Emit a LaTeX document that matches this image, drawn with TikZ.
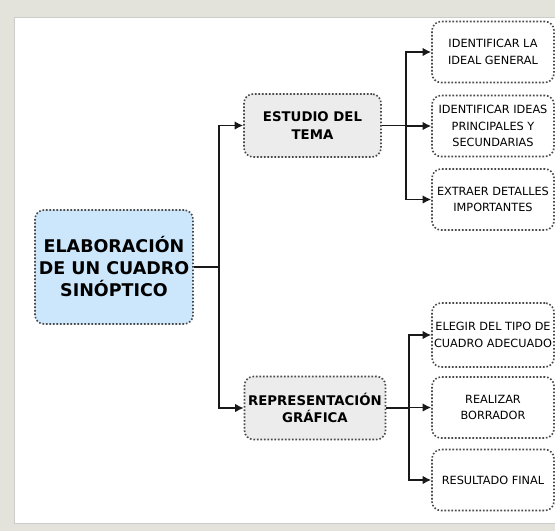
\documentclass[tikz,border=0pt]{standalone}
\usepackage{fontspec}
\setmainfont{DejaVu Sans}
\usetikzlibrary{arrows.meta}
\definecolor{bgrey}{HTML}{E3E3DC}
\definecolor{mainblue}{HTML}{CCE6FB}
\definecolor{midgrey}{HTML}{ECECEC}
\definecolor{dotcol}{HTML}{484848}
\tikzset{
  box/.style={draw=dotcol, dash pattern=on 1.6pt off 1.9pt, line width=1.6pt, rounded corners=9pt, align=center, inner sep=0pt},
  mainbox/.style={box, fill=mainblue, minimum width=158pt, minimum height=114pt,
    font=\bfseries\fontsize{17.5}{22}\selectfont},
  midbox/.style={box, fill=midgrey, minimum width=137pt, minimum height=63pt,
    font=\bfseries\fontsize{13.3}{17.5}\selectfont},
  leafbox/.style={box, fill=white, minimum width=122pt, minimum height=61pt,
    font=\fontsize{11.3}{16.5}\selectfont},
  conn/.style={draw=black!90, line width=1.6pt},
  arr/.style={conn, -{Latex[length=8.5pt,width=8.5pt]}}
}
\begin{document}
\begin{tikzpicture}[x=1pt,y=-1pt]
\useasboundingbox (0,0) rectangle (555,531);
\fill[bgrey] (0,0) rectangle (555,531);
\fill[white] (14,17) rectangle (556,523);
\draw[black!20, line width=0.6pt] (14,17) -- (556,17);
\draw[black!20, line width=0.6pt] (14,17) -- (14,523) -- (556,523);

\node[mainbox] (main) at (114,267) {ELABORACIÓN\\DE UN CUADRO\\SINÓPTICO};
\node[midbox] (est) at (312.5,125.5) {ESTUDIO DEL\\TEMA};
\node[midbox, minimum width=141pt] (rep) at (315,408) {REPRESENTACIÓN\\GRÁFICA};

\node[leafbox] (l1) at (493,52) {IDENTIFICAR LA\\IDEAL GENERAL};
\node[leafbox] (l2) at (493,126) {IDENTIFICAR IDEAS\\PRINCIPALES Y\\SECUNDARIAS};
\node[leafbox] (l3) at (493,199.5) {EXTRAER DETALLES\\IMPORTANTES};
\node[leafbox, minimum height=64pt] (l4) at (493,335) {ELEGIR DEL TIPO DE\\CUADRO ADECUADO};
\node[leafbox] (l5) at (493,407.5) {REALIZAR\\BORRADOR};
\node[leafbox] (l6) at (493,480) {RESULTADO FINAL};

\coordinate (j1) at (219,267);
\coordinate (j2) at (406,125.5);
\coordinate (j3) at (409,408);

\draw[conn] (main.east) -- (j1);
\draw[arr] (j1) |- (est.west);
\draw[arr] (j1) |- (rep.west);

\draw[conn] (est.east) -- (j2);
\draw[arr] (j2) |- (l1.west);
\draw[arr] (j2) |- (l2.west);
\draw[arr] (j2) |- (l3.west);

\draw[conn] (rep.east) -- (j3);
\draw[arr] (j3) |- (l4.west);
\draw[arr] (j3) |- (l5.west);
\draw[arr] (j3) |- (l6.west);
\end{tikzpicture}
\end{document}
